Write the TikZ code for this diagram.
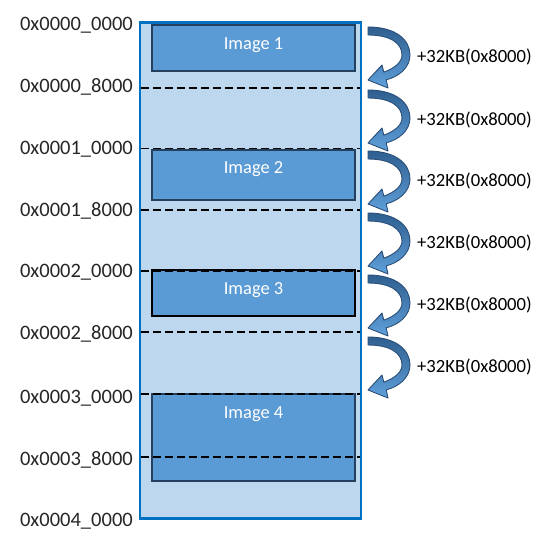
\documentclass[tikz,border=0pt]{standalone}
\usepackage{fontspec}
\setmainfont{Carlito}
\definecolor{memborder}{HTML}{0070C0}
\definecolor{memfill}{HTML}{BDD7EE}
\definecolor{imgfill}{HTML}{5B9BD5}
\definecolor{imgline}{HTML}{253F5E}
\definecolor{arrtop}{HTML}{2F5F90}
\definecolor{arrbot}{HTML}{5FA0DA}
\definecolor{arrline}{HTML}{2A4E78}
\definecolor{txt}{HTML}{262626}
\tikzset{
  memrect/.style={draw=memborder, fill=memfill, line width=2.6bp, minimum width=221bp, minimum height=496bp, inner sep=0pt},
  imgbox/.style={draw=imgline, fill=imgfill, line width=1.6bp, minimum width=203bp, inner sep=0pt},
  imgtext/.style={text=white, font=\fontsize{18.5}{20}\selectfont, inner sep=0pt, text height=11.9bp, text depth=0pt},
  hexlabel/.style={text=txt, font=\fontsize{20.6}{22}\selectfont, anchor=east, inner sep=0pt, text height=13bp, text depth=0pt},
  steplabel/.style={text=black, font=\fontsize{18.7}{20}\selectfont, anchor=west, inner sep=0pt, text height=11.8bp, text depth=0pt},
  divline/.style={line width=1.8bp, dash pattern=on 7.5bp off 4.5bp},
  curvedarrow/.pic={
    \draw[line width=0.9bp, draw=arrline, top color=arrtop, bottom color=arrbot, line join=round]
      (368,0) .. controls (396,0) and (410,13) .. (410,28)
      .. controls (410,41) and (398,50) .. (386.2,52.8)
      -- (388,61) -- (368,53) -- (382,38) -- (383.8,45.2)
      .. controls (395,41) and (402,35) .. (402,28)
      .. controls (402,16) and (390,8) .. (368,8) -- cycle;
  }
}
\begin{document}
\begin{tikzpicture}[x=1bp,y=-1bp]
\useasboundingbox (0,0) rectangle (541,546);
\fill[white] (0,0) rectangle (541,546);
% memory block
\node[memrect] (mem) at (250.5,270.5) {};
% image boxes
\node[imgbox, minimum height=46bp] (img1) at (253.5,48) {};
\node[imgbox, minimum height=50bp] (img2) at (253.5,175) {};
\node[imgbox, draw=black, minimum height=46bp] (img3) at (253.5,293) {};
\node[imgbox, minimum height=87bp] (img4) at (253.5,437.5) {};
% division lines
\foreach \yy in {88,148.5,210,271,332,394,457}
  \draw[divline] (141,\yy) -- (360,\yy);
% image texts
\node[imgtext] (t1) at (253.5,44) {Image 1};
\node[imgtext] (t2) at (253.5,168) {Image 2};
\node[imgtext] (t3) at (253.5,289) {Image 3};
\node[imgtext] (t4) at (253.5,413) {Image 4};
% address labels
\node[hexlabel] (h0) at (133,24.5) {0x0000\_0000};
\node[hexlabel] (h1) at (133,86.5) {0x0000\_8000};
\node[hexlabel] (h2) at (133,148) {0x0001\_0000};
\node[hexlabel] (h3) at (133,210) {0x0001\_8000};
\node[hexlabel] (h4) at (133,271) {0x0002\_0000};
\node[hexlabel] (h5) at (133,333) {0x0002\_8000};
\node[hexlabel] (h6) at (133,396.5) {0x0003\_0000};
\node[hexlabel] (h7) at (133,458.5) {0x0003\_8000};
\node[hexlabel] (h8) at (133,520) {0x0004\_0000};
% curved arrows and step labels
\foreach \tp [count=\i] in {27,90,151,213,275,337} {
  \pic at (0,\tp) {curvedarrow};
  \node[steplabel] (k\i) at (417,\tp+30) {+32KB(0x8000)};
}
\end{tikzpicture}
\end{document}
